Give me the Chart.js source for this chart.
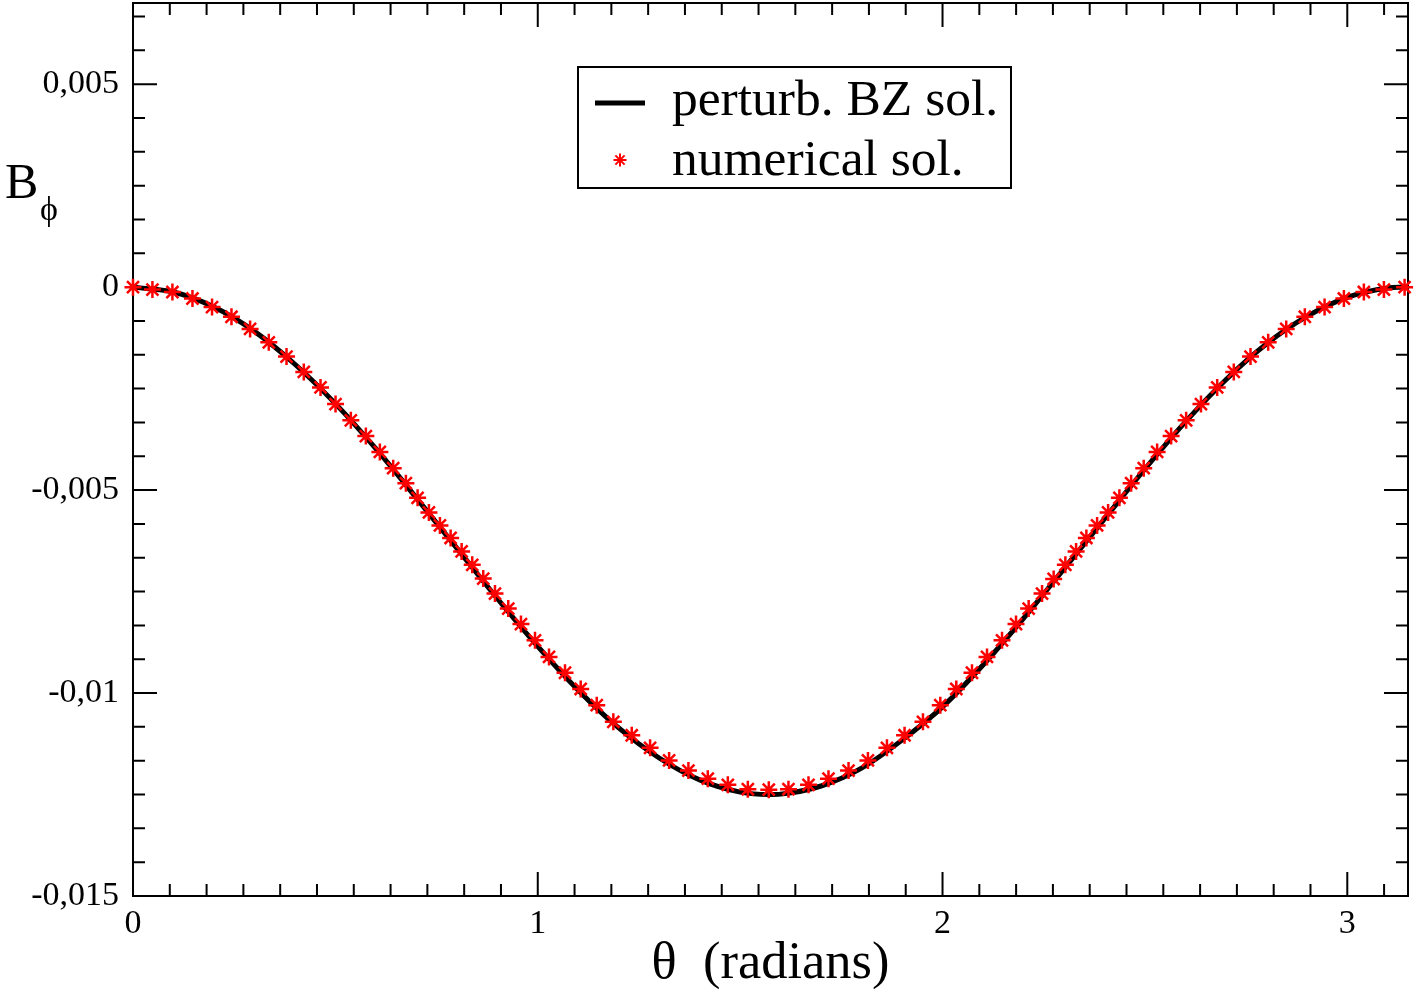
<!DOCTYPE html>
<html>
<head>
<meta charset="utf-8">
<script src="https://cdn.jsdelivr.net/npm/chart.js@4.4.1/dist/chart.umd.min.js"></script>
<style>
  body { margin: 0; background: #fff; }
</style>
</head>
<body>
<canvas id="myChart" width="1417" height="996"></canvas>
<script>
/* data */
const thetaNum = [0, 0.048, 0.0974, 0.1469, 0.1953, 0.2433, 0.2893, 0.3355, 0.3793, 0.422,
  0.4633, 0.5004, 0.5382, 0.5753, 0.6099, 0.6428, 0.6742, 0.7031, 0.7311, 0.7583,
  0.7847, 0.8119, 0.8381, 0.8653, 0.8943, 0.9271, 0.9585, 0.9932, 1.0278, 1.0673,
  1.1061, 1.1457, 1.1867, 1.2322, 1.2775, 1.3245, 1.3722, 1.4201, 1.4696, 1.519,
  1.5708, 1.6194, 1.6689, 1.7183, 1.7678, 1.8157, 1.8627, 1.9062, 1.9517, 1.9945,
  2.034, 2.0728, 2.1099, 2.147, 2.1816, 2.2128, 2.2459, 2.2746, 2.3035, 2.33,
  2.3554, 2.3819, 2.4091, 2.437, 2.466, 2.4971, 2.5302, 2.5648, 2.6019, 2.6385,
  2.6786, 2.7196, 2.7609, 2.8046, 2.8491, 2.8951, 2.9439, 2.9916, 3.041, 3.0905, 3.1416];
const bphiNum = [0, -0.00006, -0.00012, -0.00028, -0.00049, -0.00073, -0.00103, -0.00136, -0.00171, -0.00209,
  -0.00247, -0.00288, -0.00328, -0.00367, -0.00406, -0.00446, -0.00483, -0.00519, -0.00555, -0.00587,
  -0.00618, -0.00651, -0.00684, -0.00718, -0.00755, -0.00792, -0.0083, -0.0087, -0.00911, -0.0095,
  -0.0099, -0.0103, -0.01071, -0.01104, -0.01135, -0.01166, -0.01191, -0.01211, -0.01226, -0.01237,
  -0.01238, -0.01237, -0.01226, -0.01211, -0.01191, -0.01166, -0.01135, -0.01104, -0.01071, -0.0103,
  -0.0099, -0.0095, -0.00911, -0.0087, -0.0083, -0.00792, -0.00755, -0.00719, -0.00684, -0.00651,
  -0.00618, -0.00587, -0.00555, -0.00519, -0.00483, -0.00446, -0.00406, -0.00367, -0.00328, -0.00288,
  -0.00247, -0.00209, -0.00171, -0.00136, -0.00103, -0.00073, -0.00049, -0.00028, -0.00012, -0.00006, 0];

const thetaBZ = [0, 0.1, 0.2, 0.3, 0.4, 0.5, 0.6, 0.7, 0.8, 0.9, 1.0, 1.1, 1.2, 1.3, 1.4, 1.5, 1.5708,
  1.6, 1.7, 1.8, 1.9, 2.0, 2.1, 2.2, 2.3, 2.4, 2.5, 2.6, 2.7, 2.8, 2.9, 3.0, 3.1, 3.1416];
const bphiBZ = [0, -0.00012, -0.00049, -0.00109, -0.0019, -0.00287, -0.00398, -0.00519, -0.00643, -0.00767,
  -0.00885, -0.00993, -0.01086, -0.0116, -0.01214, -0.01244, -0.0125,
  -0.01249, -0.01229, -0.01185, -0.01116, -0.01034, -0.00931, -0.00816, -0.00694, -0.00571,
  -0.00448, -0.00332, -0.00228, -0.0014, -0.00072, -0.00025, -0.00002, 0];

const xTicks = [0, 1, 2, 3];
const yTicks = [-0.015, -0.01, -0.005, 0, 0.005];
const seriesLabels = ['perturb. BZ sol.', 'numerical sol.'];

const serif = '"Liberation Serif", "Times New Roman", serif';

function toPoints(xs, ys) {
  return xs.map((x, i) => ({ x: x, y: ys[i] }));
}

// frame + inward ticks on all four sides (xmgrace style)
const framePlugin = {
  id: 'frame',
  beforeDatasetsDraw(chart) {
    const c = chart.ctx, a = chart.chartArea;
    const xs = chart.scales.x, ys = chart.scales.y;
    c.save();
    c.strokeStyle = '#000';
    c.lineWidth = 2;
    c.strokeRect(a.left, a.top, a.right - a.left, a.bottom - a.top);
    // x ticks, 11 subdivisions per unit
    for (let k = 0; k / 11 <= xs.max; k++) {
      const px = xs.getPixelForValue(k / 11);
      const len = k % 11 == 0 ? 24 : 12;
      c.beginPath();
      c.moveTo(px, a.bottom); c.lineTo(px, a.bottom - len);
      c.moveTo(px, a.top); c.lineTo(px, a.top + len);
      c.stroke();
    }
    // y ticks, 6 subdivisions per 0.005
    for (let k = -18; k * 0.005 / 6 <= ys.max + 1e-9; k++) {
      const py = ys.getPixelForValue(k * 0.005 / 6);
      const len = k % 6 == 0 ? 24 : 12;
      c.beginPath();
      c.moveTo(a.left, py); c.lineTo(a.left + len, py);
      c.moveTo(a.right, py); c.lineTo(a.right - len, py);
      c.stroke();
    }
    c.restore();
  },
  afterDraw(chart) {
    const c = chart.ctx;
    c.save();
    c.fillStyle = '#000';
    // y title B_phi
    c.font = '50px ' + serif;
    c.textBaseline = 'alphabetic';
    c.fillText('B', 5, 198);
    c.font = '34px ' + serif;
    c.fillText('\u03d5', 40, 220);

    // legend box
    c.strokeStyle = '#000';
    c.lineWidth = 2;
    c.strokeRect(578, 67, 433, 121);
    c.lineWidth = 5;
    c.beginPath();
    c.moveTo(595, 103); c.lineTo(645, 103);
    c.stroke();
    c.strokeStyle = '#ff0000';
    c.lineWidth = 2;
    const r = 6.5, cx = 620, cy = 160, d = r * Math.SQRT1_2;
    c.beginPath();
    c.moveTo(cx - r, cy); c.lineTo(cx + r, cy);
    c.moveTo(cx, cy - r); c.lineTo(cx, cy + r);
    c.moveTo(cx - d, cy - d); c.lineTo(cx + d, cy + d);
    c.moveTo(cx - d, cy + d); c.lineTo(cx + d, cy - d);
    c.stroke();
    c.font = '51.5px ' + serif;
    c.fillText(seriesLabels[0], 672, 115);
    c.fillText(seriesLabels[1], 672, 175);
    c.restore();
  }
};

const ctx = document.getElementById('myChart');
var config = {
  type: 'scatter',
  data: {
    datasets: [{
      label: seriesLabels[1],
      data: toPoints(thetaNum, bphiNum),
      showLine: false,
      pointStyle: 'star',
      pointRadius: 8.5,
      pointBorderWidth: 2.5,
      borderColor: '#ff0000',
      backgroundColor: '#ff0000',
      clip: false,
      order: 1
    }, {
      label: seriesLabels[0],
      data: toPoints(thetaBZ, bphiBZ),
      showLine: true,
      pointRadius: 0,
      borderWidth: 5,
      borderColor: '#000',
      cubicInterpolationMode: 'monotone',
      clip: false,
      order: 2
    }]
  },
  options: {
    responsive: false,
    animation: false,
    layout: { autoPadding: false, padding: { left: 0, top: 3, right: 9, bottom: 0 } },
    plugins: {
      legend: { display: false },
      tooltip: { enabled: false }
    },
    scales: {
      x: {
        type: 'linear',
        min: 0,
        max: 3.15,
        afterBuildTicks: (s) => { s.ticks = xTicks.map(v => ({ value: v })); },
        afterFit: (s) => { s.height = 100; s.paddingLeft = 0; s.paddingRight = 0; },
        grid: { display: false, drawTicks: false },
        border: { display: false },
        ticks: {
          padding: 8,
          maxRotation: 0,
          color: '#000',
          font: { family: serif, size: 34 },
          callback: (v) => String(v)
        },
        title: {
          display: true,
          text: '\u03b8  (radians)',
          color: '#000',
          font: { family: serif, size: 52.5, lineHeight: 1.2 },
          padding: { top: 0, bottom: 0 }
        }
      },
      y: {
        type: 'linear',
        min: -0.015,
        max: 0.007,
        afterBuildTicks: (s) => { s.ticks = yTicks.map(v => ({ value: v })); },
        afterFit: (s) => { s.width = 133; s.paddingTop = 0; s.paddingBottom = 0; },
        grid: { display: false, drawTicks: false },
        border: { display: false },
        ticks: {
          padding: 14,
          color: '#000',
          font: { family: serif, size: 34 },
          callback: (v) => String(+v.toFixed(3)).replace('.', ',')
        }
      }
    }
  },
  plugins: [framePlugin]
};

var myChart = new Chart(ctx, config);
</script>
</body>
</html>
